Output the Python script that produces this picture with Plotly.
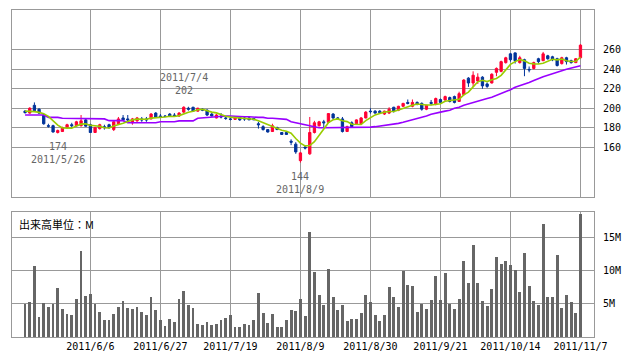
import plotly.graph_objects as go

# ---------------- data ----------------
day_index = list(range(120))

opens = [197,195,203,199,193,182,182,175,176,180,
         183,182,182,188,183,175,179,181,183,178,
         184,190,189,185,187,189,189,189,195,192,
         192,194,193,192,196,200,201,197,199,198,
         194,190,192,190,189,188.5,191,190,190,189.5,
         184,181,178,176,180,175,175,166,163,146,
         160,153,175,182,186,185.5,194,190,189,176,
         185,184,184,190,197,197,197,194,195,201,
         198,202,206,202,206,205,199,206,204,209,
         208.5,211,212,207,214,231,226,228,232,225,
         226,237,238,247,256,257,247,250,240,241,
         251,249,254,253,251,246,252,249,247,252]
highs = [198,201,206,200,194,184,183,178,181,184,
         185,187,193,189,184,181,184,183,184,187,
         191,193,193,190,191,191,191,195,196,194,
         193,195,195,196,202,201.5,201.5,200.5,200,199,
         195,194,195,192,192,191,192,192,191,190,
         186,182.5,178.5,184,181,175.5,175.5,168,165,155,
         161,191,187,187,188,195,195,191,191,182,
         186.5,188.5,191,197,200,198,198,197.5,201,201.5,
         202.5,205.5,209,209,207,206,203.5,208.5,211,210,
         213,212,213,217,230,232,238,236,233,226.5,
         236,242,249,253,257,257.5,254,251,243,248,
         252,258,255,254,252,253,253,250,251.5,266]
lows = [194.5,194.5,196.5,194,183,180,175,174,175.5,179,
        180,181,181,181,174.5,174.5,178,178,179,176.5,
        183.5,187,186,183,186,186,186,188.5,190,190,
        191,191,191,191,195,197.5,196.5,196.5,197,192,
        191.5,189.5,189.5,188,187.5,188,187,187,188,188,
        179,177,175,175.5,177.5,172.5,172.5,162,153,144,
        157.5,152,174,181,180,185,189,188,175,175.5,
        180,183.5,183.5,189.5,194.5,194.5,195,193,194,195.5,
        197,201.5,204,201,203,197.5,198,203,203,205.5,
        208,206,205,206.5,213.5,222,222,225,220,221,
        225.5,233,237,246,248,246,246,233,237,240,
        246,248.5,250,248.5,243,245,245,246,246.5,251.5]
closes = [195.5,200,197.5,195,184,181.5,175.5,177,180,183,
          182,186,187,181.5,175,180,183,180,180,186,
          189,188,188,189,190,188,188,194,190.5,191,
          191.5,192,192.5,195,201,199,197,200,198,193,
          192,193,191,189.5,188.5,190,188,189,188,188,
          183,178,175.5,182,178,173,173,165,155,154,
          159,175,185,186,185,194.5,190,189.5,176,181,
          181,188,190,196,196.5,195,195.5,197,199,197,
          202,205,205,206,204,199,203,205,210,206,
          212,207,206,215,229,226,234,232,223,222.5,
          235,241,248,252,250,249,252,241,239.5,247,
          248,256,251,250,244,252,248,247,251,265]
volumes_m = [4.95,5.3,10.8,3.0,5.15,4.55,5.0,7.4,4.25,3.5,
             3.3,5.75,13.0,6.2,6.5,5.0,3.8,2.6,2.6,3.5,
             4.55,5.45,4.4,4.25,4.55,3.8,3.3,6.05,4.1,2.6,
             1.65,2.75,2.25,5.75,6.95,4.85,4.4,1.95,1.8,2.25,
             1.8,1.95,2.6,2.9,3.3,1.5,1.5,1.95,1.8,2.6,
             6.65,3.65,2.1,3.5,1.5,1.5,2.6,4.1,3.95,5.75,
             3.2,15.9,9.85,6.35,4.85,10.3,6.05,4.1,4.85,2.4,
             2.75,2.75,3.65,6.35,5.3,3.3,2.4,3.3,7.6,6.05,
             4.55,10.0,7.9,7.75,3.8,5.0,4.25,5.6,9.25,5.6,
             9.7,5.0,4.25,5.75,11.5,8.2,13.9,8.2,5.45,4.7,
             7.25,12.1,11.05,11.5,10.9,10.15,6.8,12.7,7.75,5.45,
             4.85,17.1,6.05,6.05,12.4,4.4,6.35,5.3,3.65,18.6]
ma_short = [197,197,196.5,195.7,194.4,191.6,186.7,182.6,179.6,179.4,
            179.5,181.6,183.6,183.9,182.3,181.9,181.3,179.9,179.6,181.8,
            183.6,184.6,186.2,188,188.8,188.6,188.6,189.8,190.1,190.3,
            191,191.8,191.5,192.4,194.4,195.9,196.9,198.4,199,197.4,
            196,195.2,193.4,191.7,190.8,190.4,189.4,189,188.7,188.6,
            187.2,185.2,182.5,181.3,179.3,177.3,176.3,174.2,168.8,164,
            161.2,161.6,165.6,171.8,178,185.1,188.1,189,187,186.2,
            183.5,183.1,183.2,187.2,190.3,193.1,194.6,196,196.6,196.7,
            198.1,200,201.6,203,204.4,203.8,203.4,203.4,204.2,204.6,
            207.2,208,208.2,209.2,213.8,216.6,222,227.2,228.8,227.5,
            229.3,230.7,233.9,239.7,245.2,248,250.2,248.8,246.3,245.7,
            245.5,246.3,248.3,250.4,249.8,250.6,249,248.2,248.4,252.6]
ma_long = [193,193,193,193,193,190.6,190.6,190.6,189.6,189.6,
           189.6,189.6,189.6,189,189,189,189,189,187.2,187.2,
           187.2,187.2,185.1,185.1,185.1,185.1,185.1,185.1,185.1,186.1,
           186.1,186.1,186.1,187,187,187,187,189.6,190,190.6,
           191,191.5,192,192,192,191.5,191.5,191.2,191.2,190.6,
           190.6,190.6,189.6,189.6,189,188.5,188.5,186.1,185,184.4,
           183,181.6,180.5,179.9,179.9,179.9,179.9,179.9,179.9,179.9,
           179.9,179.9,179.9,179.9,180.5,181,181.6,182,182.7,183.5,
           184.4,185.5,186.8,187.5,189,190.6,192,193.7,194.5,196,
           197,198,199.9,201,203,204.5,206,207.4,208.5,210,
           211.2,213,215,217,219,221.5,223,224.6,226.5,228.5,
           230.8,232.5,234,235.3,237,238.5,240.1,241.5,243,243.8]

date_tick_idx = [14, 29, 44, 59, 74, 89, 104, 119]
date_tick_labels = ["2011/6/6", "2011/6/27", "2011/7/19", "2011/8/9",
                    "2011/8/30", "2011/9/21", "2011/10/14", "2011/11/7"]
price_ticks = [160, 180, 200, 220, 240, 260]
vol_ticks = [5, 10, 15]
vol_tick_labels = ["5M", "10M", "15M"]

# marked extremes
mark_idx = [7, 34, 59]
mark_price = [174, 202, 144]
mark_date = ["2011/5/26", "2011/7/4", "2011/8/9"]
mark_kind = ["low", "high", "low"]

# ---------------- styling ----------------
RED = "#ff0033"
BLUE = "#003399"
GRID = "#999999"
FONT = "DejaVu Sans Mono"

fig = go.Figure()
fig.add_trace(go.Candlestick(
    x=day_index, open=opens, high=highs, low=lows, close=closes,
    increasing=dict(line=dict(color=RED, width=1), fillcolor=RED),
    decreasing=dict(line=dict(color=BLUE, width=1), fillcolor=BLUE),
    whiskerwidth=0, showlegend=False, xaxis="x", yaxis="y"))
fig.add_trace(go.Scatter(x=day_index, y=ma_long, mode="lines",
                         line=dict(color="#9900ff", width=1.6),
                         showlegend=False, xaxis="x", yaxis="y"))
fig.add_trace(go.Scatter(x=day_index, y=ma_short, mode="lines",
                         line=dict(color="#99cc00", width=1.6),
                         showlegend=False, xaxis="x", yaxis="y"))
fig.add_trace(go.Bar(x=day_index, y=volumes_m, width=0.6,
                     marker=dict(color="#666666", line=dict(width=0)),
                     showlegend=False, xaxis="x2", yaxis="y2"))

xr = [-2.8, 121.9]
axis_common = dict(showgrid=True, gridcolor=GRID, gridwidth=1, showline=True,
                   linecolor=GRID, linewidth=1, mirror=True, zeroline=False,
                   automargin=False)

annotations = []
for i, p, d, k in zip(mark_idx, mark_price, mark_date, mark_kind):
    if k == "high":
        annotations.append(dict(x=i, y=p, xref="x", yref="y", text=f"{d}<br>{p}",
                                showarrow=False, yanchor="bottom", yshift=8,
                                font=dict(family=FONT, size=10, color="#666666")))
    else:
        annotations.append(dict(x=i, y=p, xref="x", yref="y", text=f"{p}<br>{d}",
                                showarrow=False, yanchor="top", yshift=-6,
                                font=dict(family=FONT, size=10, color="#666666")))
annotations.append(dict(x=0.008, y=0.375, xref="paper", yref="paper",
                        text="出来高単位：M", showarrow=False,
                        xanchor="left", yanchor="top",
                        font=dict(family="Noto Sans CJK JP", size=11, color="#000000")))

fig.update_layout(
    width=638, height=362,
    margin=dict(l=12, r=44, t=10, b=25),
    paper_bgcolor="white", plot_bgcolor="white",
    font=dict(family=FONT, size=10, color="#000000"),
    showlegend=False,
    bargap=0,
    xaxis=dict(domain=[0, 1], anchor="y", range=xr, tickvals=date_tick_idx,
               showticklabels=False, ticks="", rangeslider=dict(visible=False),
               **axis_common),
    yaxis=dict(domain=[0.428, 1], anchor="x", range=[108.5, 301.2], side="right",
               tickvals=price_ticks, ticks="outside", ticklen=6,
               tickcolor="rgba(0,0,0,0)", **axis_common),
    xaxis2=dict(domain=[0, 1], anchor="y2", range=xr, tickvals=date_tick_idx,
                ticktext=date_tick_labels, ticks="", **axis_common),
    yaxis2=dict(domain=[0, 0.382], anchor="x2", range=[0, 18.9], side="right",
                tickvals=vol_ticks, ticktext=vol_tick_labels, ticks="outside",
                ticklen=6, tickcolor="rgba(0,0,0,0)", **axis_common),
    annotations=annotations,
)

fig.write_html("out.html",
               config={"displayModeBar": False},
               post_script="document.body.style.margin='0';"
                           "document.body.style.overflow='hidden';")
